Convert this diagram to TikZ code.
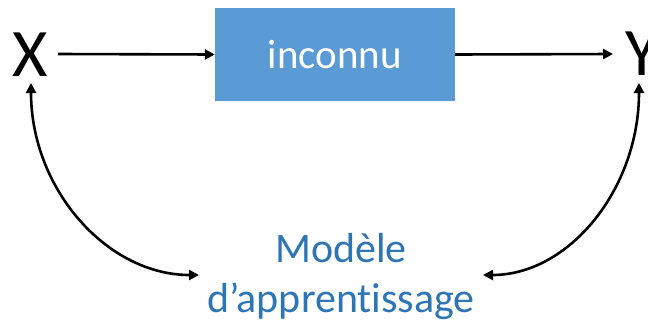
\documentclass[tikz,border=0pt]{standalone}
\usepackage{fontspec}
\setmainfont{Carlito}[Ligatures=NoCommon]
\usetikzlibrary{arrows.meta}
\definecolor{boxblue}{HTML}{5B9BD5}
\definecolor{textblue}{HTML}{2E75B6}
\tikzset{
  tip/.style={Triangle[length=10pt,width=10pt]},
  flow/.style={line width=2.6pt, -{Triangle[length=10pt,width=10pt]}},
  twoway/.style={line width=2.6pt, {Triangle[length=10pt,width=10pt]}-{Triangle[length=10pt,width=10pt]}},
  var/.style={font=\fontsize{68}{80}\selectfont, inner sep=0pt},
  blackbox/.style={fill=boxblue, minimum width=240pt, minimum height=93pt, inner sep=0pt,
    text=white, font=\fontsize{41}{48}\selectfont},
  modeltext/.style={text=textblue, align=center, inner sep=0pt,
    font=\fontsize{42}{50}\selectfont}
}
\begin{document}
\begin{tikzpicture}[x=1pt, y=-1pt]
  \clip (0,0) rectangle (648,325);
  % inputs, outputs and the unknown system
  \node[var] (X) at (30.5,54.5) {X};
  \node[var] (Y) at (642,54) {Y};
  \node[blackbox] (sys) at (335,54.5) {inconnu};
  % learned model (base anchor sits on the last line)
  \node[modeltext, anchor=base] (model) at (341,312) {Modèle\\d’apprentissage};
  \coordinate (ml) at (199,275);
  \coordinate (mr) at (483,275);
  \coordinate (xb) at (31,83);
  \coordinate (yb) at (639,83);
  % main chain
  \draw[flow] (58,54) -- (sys.west);
  \draw[flow] (sys.east) -- (613,54);
  % links between the model and the variables
  \draw[twoway] (xb) .. controls +(0,106) and +(-92,0) .. (ml);
  \draw[twoway] (yb) .. controls +(0,106) and +(86,0) .. (mr);
\end{tikzpicture}
\end{document}
